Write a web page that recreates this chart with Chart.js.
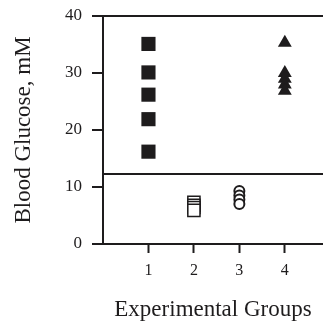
<!DOCTYPE html>
<html>
<head>
<meta charset="utf-8">
<script src="https://cdn.jsdelivr.net/npm/chart.js@4"></script>
<style>
    html, body { margin: 0; padding: 0; background: #fff; overflow: hidden; }
    canvas { display: block; }
</style>
</head>
<body>
<canvas id="chart" width="323" height="328"></canvas>
<script>
// values
var groupTicks = [1, 2, 3, 4];
var yTicks = [0, 10, 20, 30, 40];
var group1 = [35.1, 30.1, 26.2, 21.9, 16.2];
var group2 = [7.3, 6.8, 6.4, 5.9];
var group3 = [9.3, 8.5, 7.8, 7.0];
var group4 = [35.3, 30.0, 29.0, 28.0, 26.9];
var cutoff = 12.3;
var xMin = 0, xMax = 4.84;

var ink = '#1e1c1d';
var serif = 'Liberation Serif, Times New Roman, serif';

function toPoints(group, values) {
    return values.map((v) => ({x: group, y: v}));
}

var chart = new Chart(document.getElementById('chart'), {
    type: 'scatter',
    data: {
        datasets: [{
            type: 'line',
            data: [{x: xMin, y: cutoff}, {x: xMax, y: cutoff}],
            borderColor: ink,
            borderWidth: 2,
            pointRadius: 0
        }, {
            data: toPoints(1, group1),
            pointStyle: 'rect',
            pointRadius: 10,
            backgroundColor: ink,
            borderColor: ink,
            borderWidth: 0
        }, {
            data: toPoints(2, group2),
            pointStyle: 'rect',
            pointRadius: 8.6,
            backgroundColor: '#fff',
            borderColor: ink,
            borderWidth: 1.5
        }, {
            data: toPoints(3, group3),
            pointStyle: 'circle',
            pointRadius: 5,
            backgroundColor: '#fff',
            borderColor: ink,
            borderWidth: 2
        }, {
            data: toPoints(4, group4),
            pointStyle: 'triangle',
            pointRadius: 8,
            backgroundColor: ink,
            borderColor: ink,
            borderWidth: 0
        }]
    },
    options: {
        responsive: false,
        animation: false,
        layout: {
            autoPadding: false,
            padding: {top: 16, right: 0, left: 0, bottom: 0}
        },
        plugins: {
            legend: {display: false},
            tooltip: {enabled: false}
        },
        scales: {
            x: {
                type: 'linear',
                min: xMin,
                max: xMax,
                afterBuildTicks: (scale) => {
                    scale.ticks = groupTicks.map((v) => ({value: v}));
                },
                afterFit: (scale) => {
                    scale.height = 84;
                    scale.paddingLeft = 0;
                    scale.paddingRight = 0;
                },
                grid: {
                    drawOnChartArea: false,
                    tickLength: 9,
                    tickColor: ink,
                    tickWidth: 2
                },
                border: {color: ink, width: 2},
                ticks: {
                    color: ink,
                    padding: 8,
                    font: {family: serif, size: 16}
                },
                title: {
                    display: true,
                    text: 'Experimental Groups',
                    color: ink,
                    padding: {top: 0, bottom: 4},
                    font: {family: serif, size: 23}
                }
            },
            y: {
                min: 0,
                max: 40,
                afterBuildTicks: (scale) => {
                    scale.ticks = yTicks.map((v) => ({value: v}));
                },
                afterFit: (scale) => {
                    scale.width = 103;
                    scale.paddingTop = 0;
                    scale.paddingBottom = 0;
                },
                grid: {
                    color: (ctx) => (ctx.tick && ctx.tick.value === 40) ? ink : 'rgba(0,0,0,0)',
                    lineWidth: 2,
                    tickLength: 11,
                    tickColor: ink,
                    tickWidth: 2
                },
                border: {color: ink, width: 2},
                ticks: {
                    color: ink,
                    padding: 10,
                    font: {family: serif, size: 17}
                },
                title: {
                    display: true,
                    text: 'Blood Glucose, mM',
                    color: ink,
                    padding: {top: 10, bottom: 0},
                    font: {family: serif, size: 23}
                }
            }
        }
    }
});
</script>
</body>
</html>
